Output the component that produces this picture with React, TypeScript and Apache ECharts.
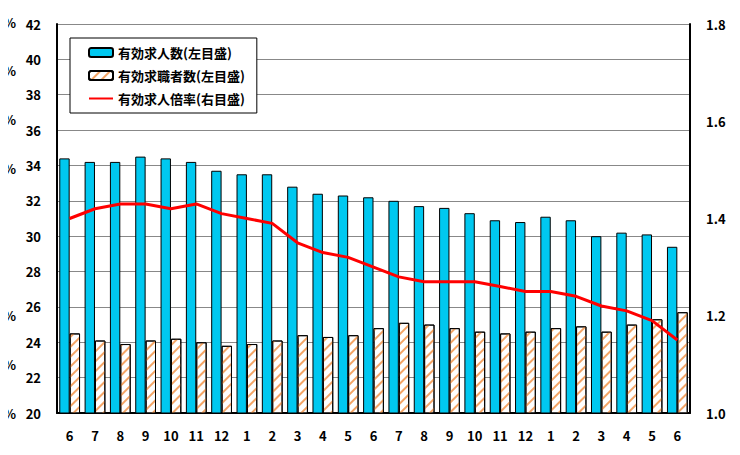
import React, { useEffect, useRef } from "react";
import * as echarts from "echarts";

const months = ["6","7","8","9","10","11","12","1","2","3","4","5","6","7","8","9","10","11","12","1","2","3","4","5","6"];
const seekers = [34.4,34.2,34.2,34.5,34.4,34.2,33.7,33.5,33.5,32.8,32.4,32.3,32.2,32.0,31.7,31.6,31.3,30.9,30.8,31.1,30.9,30.0,30.2,30.1,29.4];
const employed = [24.5,24.1,23.9,24.1,24.2,24.0,23.8,23.9,24.1,24.4,24.3,24.4,24.8,25.1,25.0,24.8,24.6,24.5,24.6,24.8,24.9,24.6,25.0,25.3,25.7];
const ratio = [1.40,1.42,1.43,1.43,1.42,1.43,1.41,1.40,1.39,1.35,1.33,1.32,1.30,1.28,1.27,1.27,1.27,1.26,1.25,1.25,1.24,1.22,1.21,1.19,1.15];
const years = [{ label: "R4", idx: 0 }, { label: "R5", idx: 7 }, { label: "R6", idx: 19 }];
const leftCut = ["%", "%", "%", "%", "", "", "%", "0%", "4%", "0%"];

const font = "'Noto Sans CJK JP', sans-serif";

const App: React.FC = () => {
    const ref = useRef<HTMLDivElement | null>(null);

    useEffect(() => {
        if (!ref.current) return;
        const chart = echarts.init(ref.current, null, { renderer: "svg" });
        const gl = 57, gr = 690, gt = 24, gb = 413;
        const step = (gr - gl) / months.length;
        const graphics: any[] = years.map((y) => ({
            type: "text",
            x: gl + step * (y.idx + 0.5),
            y: 449,
            style: { text: y.label, font: "bold 12px " + font, fill: "#000", align: "center" }
        }));
        leftCut.forEach((t, i) => {
            if (!t) return;
            graphics.push({
                type: "text",
                x: 16,
                y: 22 + i * 48.9,
                style: { text: t, font: "bold 13px " + font, fill: "#000", align: "right", verticalAlign: "middle" }
            });
        });
        chart.setOption({
            animation: false,
            textStyle: { fontFamily: font },
            grid: { left: gl, right: 740 - gr, top: gt, bottom: 455 - gb },
            legend: {
                orient: "vertical",
                left: 70,
                top: 38,
                padding: [8, 12, 8, 18],
                itemGap: 10,
                itemWidth: 24,
                itemHeight: 9,
                borderColor: "#000",
                borderWidth: 1,
                backgroundColor: "#fff",
                textStyle: { fontSize: 13, fontWeight: "bold", color: "#000" },
                data: [
                    "有効求人数(左目盛)",
                    "有効求職者数(左目盛)",
                    { name: "有効求人倍率(右目盛)", icon: "path://M0,4H24V6H0Z", itemStyle: { color: "#ff0000" } }
                ]
            },
            xAxis: {
                type: "category",
                data: months,
                axisLine: { lineStyle: { color: "#000", width: 2 } },
                axisTick: { inside: true, length: 4, lineStyle: { color: "#000" } },
                axisLabel: { color: "#000", fontSize: 13, fontWeight: "bold", margin: 16 }
            },
            yAxis: [
                {
                    type: "value", min: 20, max: 42, interval: 2,
                    axisLine: { show: true, lineStyle: { color: "#000", width: 2 } },
                    axisTick: { show: false },
                    axisLabel: { color: "#000", fontSize: 13, fontWeight: "bold", margin: 16 },
                    splitLine: { lineStyle: { color: "#888", width: 1 } }
                },
                {
                    type: "value", min: 1.0, max: 1.8, interval: 0.2,
                    axisLine: { show: true, lineStyle: { color: "#000", width: 2 } },
                    axisTick: { show: false },
                    axisLabel: { color: "#000", fontSize: 13, fontWeight: "bold", margin: 16, formatter: (v: number) => v.toFixed(1) },
                    splitLine: { show: false }
                }
            ],
            series: [
                {
                    name: "有効求人数(左目盛)", type: "bar", data: seekers,
                    barGap: "0%", barCategoryGap: "18%",
                    itemStyle: { color: "#00c8f0", borderColor: "#000", borderWidth: 1 }
                },
                {
                    name: "有効求職者数(左目盛)", type: "bar", data: employed,
                    itemStyle: {
                        color: "#fff", borderColor: "#000", borderWidth: 1,
                        decal: { symbol: "rect", color: "#f4a566", dashArrayX: [1, 0], dashArrayY: [2, 5], rotation: -Math.PI / 4, symbolSize: 1 }
                    }
                },
                {
                    name: "有効求人倍率(右目盛)", type: "line", yAxisIndex: 1, data: ratio,
                    symbol: "none", lineStyle: { color: "#ff0000", width: 3 }, itemStyle: { color: "#ff0000" }
                }
            ],
            graphic: graphics
        });
        return () => chart.dispose();
    }, []);

    return <div ref={ref} style={{ width: 740, height: 455, margin: -8 }} />;
};

export default App;
